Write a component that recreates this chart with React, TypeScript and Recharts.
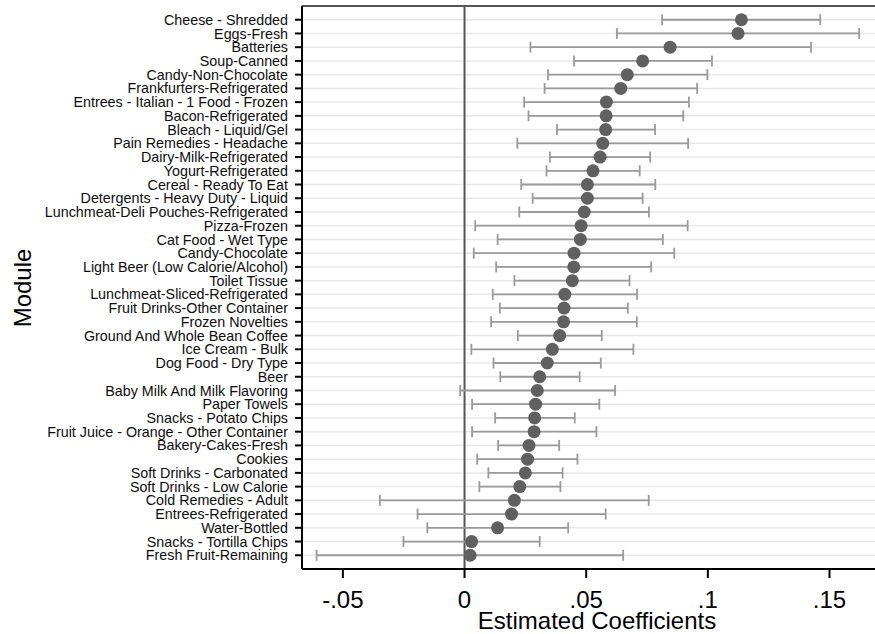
import React from 'react';
import {
  ScatterChart, Scatter, XAxis, YAxis, CartesianGrid, ErrorBar, ReferenceLine,
} from 'recharts';

// module names, top to bottom
const modules = [
  'Cheese - Shredded',
  'Eggs-Fresh',
  'Batteries',
  'Soup-Canned',
  'Candy-Non-Chocolate',
  'Frankfurters-Refrigerated',
  'Entrees - Italian - 1 Food - Frozen',
  'Bacon-Refrigerated',
  'Bleach - Liquid/Gel',
  'Pain Remedies - Headache',
  'Dairy-Milk-Refrigerated',
  'Yogurt-Refrigerated',
  'Cereal - Ready To Eat',
  'Detergents - Heavy Duty - Liquid',
  'Lunchmeat-Deli Pouches-Refrigerated',
  'Pizza-Frozen',
  'Cat Food - Wet Type',
  'Candy-Chocolate',
  'Light Beer (Low Calorie/Alcohol)',
  'Toilet Tissue',
  'Lunchmeat-Sliced-Refrigerated',
  'Fruit Drinks-Other Container',
  'Frozen Novelties',
  'Ground And Whole Bean Coffee',
  'Ice Cream - Bulk',
  'Dog Food - Dry Type',
  'Beer',
  'Baby Milk And Milk Flavoring',
  'Paper Towels',
  'Snacks - Potato Chips',
  'Fruit Juice - Orange - Other Container',
  'Bakery-Cakes-Fresh',
  'Cookies',
  'Soft Drinks - Carbonated',
  'Soft Drinks - Low Calorie',
  'Cold Remedies - Adult',
  'Entrees-Refrigerated',
  'Water-Bottled',
  'Snacks - Tortilla Chips',
  'Fresh Fruit-Remaining',
];

const coef = [
  0.1138, 0.1124, 0.0845, 0.0732, 0.0669, 0.0642, 0.0583, 0.0582, 0.0580, 0.0568,
  0.0557, 0.0528, 0.0505, 0.0505, 0.0492, 0.0479, 0.0476, 0.0450, 0.0449, 0.0443,
  0.0412, 0.0409, 0.0407, 0.0391, 0.0361, 0.0340, 0.0309, 0.0299, 0.0292, 0.0288,
  0.0286, 0.0265, 0.0259, 0.0250, 0.0227, 0.0205, 0.0193, 0.0136, 0.0029, 0.0023,
];

const lower = [
  0.0812, 0.0626, 0.0271, 0.0450, 0.0343, 0.0329, 0.0245, 0.0263, 0.0380, 0.0217,
  0.0351, 0.0337, 0.0233, 0.0280, 0.0225, 0.0044, 0.0136, 0.0038, 0.0130, 0.0205,
  0.0116, 0.0145, 0.0109, 0.0219, 0.0028, 0.0119, 0.0147, -0.0018, 0.0031, 0.0126,
  0.0031, 0.0138, 0.0052, 0.0098, 0.0061, -0.0348, -0.0193, -0.0153, -0.0251, -0.0608,
];

const upper = [
  0.1462, 0.1622, 0.1424, 0.1017, 0.0998, 0.0956, 0.0922, 0.0899, 0.0783, 0.0919,
  0.0763, 0.0720, 0.0784, 0.0732, 0.0758, 0.0917, 0.0815, 0.0862, 0.0767, 0.0678,
  0.0709, 0.0671, 0.0708, 0.0564, 0.0694, 0.0560, 0.0473, 0.0619, 0.0554, 0.0453,
  0.0542, 0.0389, 0.0464, 0.0403, 0.0394, 0.0757, 0.0580, 0.0426, 0.0309, 0.0652,
];

const xTicks = [-0.05, 0, 0.05, 0.1, 0.15];
const xTickLabels = ['-.05', '0', '.05', '.1', '.15'];

const rows = modules.map((m, i) => ({
  name: m,
  pos: i + 1,
  coef: coef[i],
  err: [coef[i] - lower[i], upper[i] - coef[i]],
}));

const font = '"Liberation Sans", Arial, sans-serif';

export default function App() {
  return (
    <div style={{ position: 'absolute', left: 0, top: 0, background: '#fff' }}>
      <ScatterChart width={875} height={634} margin={{ top: 6, right: 0, bottom: 0, left: 0 }}>
        <CartesianGrid horizontal vertical={false} stroke="#e8e8e8" strokeWidth={1.5} />
        <XAxis
          type="number"
          dataKey="coef"
          domain={[-0.0668, 0.1687]}
          allowDataOverflow
          ticks={xTicks}
          tickFormatter={(v: number) => xTickLabels[xTicks.indexOf(v)] ?? String(v)}
          height={65}
          tickSize={9}
          tickMargin={13}
          stroke="#000"
          strokeWidth={2}
          tick={{ fill: '#000', fontSize: 24, fontFamily: font }}
          label={() => (
            <text x={597} y={629} textAnchor="middle" fontSize={24} fontFamily={font} fill="#000">
              Estimated Coefficients
            </text>
          )}
        />
        <YAxis
          type="number"
          dataKey="pos"
          reversed
          domain={[0, 41]}
          ticks={rows.map((r) => r.pos)}
          interval={0}
          tickFormatter={(v: number) => modules[v - 1] ?? ''}
          width={302}
          tickSize={7}
          tickMargin={7}
          stroke="#000"
          strokeWidth={2}
          tick={{ fill: '#0d0d0d', fontSize: 14.3, fontFamily: font }}
          label={() => (
            <text
              x={22}
              y={288}
              transform="rotate(-90, 22, 288)"
              textAnchor="middle"
              dominantBaseline="central"
              fontSize={24}
              fontFamily={font}
              fill="#000"
            >
              Module
            </text>
          )}
        />
        <ReferenceLine y={0} stroke="#555" strokeWidth={2} />
        <ReferenceLine x={0} stroke="#555" strokeWidth={2} />
        <Scatter
          data={rows}
          isAnimationActive={false}
          shape={(p: any) => <circle cx={p.cx} cy={p.cy} r={6.5} fill="#606060" />}
        >
          <ErrorBar dataKey="err" direction="x" stroke="#9a9a9a" strokeWidth={1.8} width={5.5} />
        </Scatter>
      </ScatterChart>
    </div>
  );
}
